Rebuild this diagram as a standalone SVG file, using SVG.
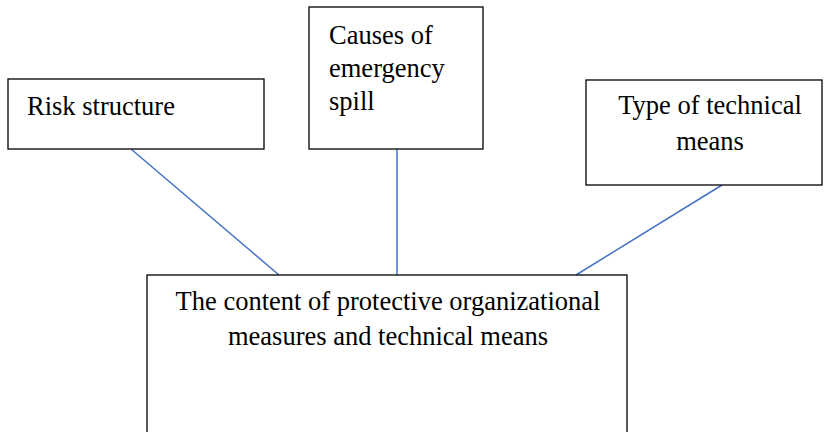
<svg xmlns="http://www.w3.org/2000/svg" width="824" height="432" viewBox="0 0 824 432">
<style>
.box{fill:#fff;stroke:#000;stroke-width:1.3}
.t{font-family:"Liberation Serif","Times New Roman",serif;font-size:26.5px;fill:#000}
.c{text-anchor:middle}
.ln{stroke:#4472C4;stroke-width:1.5;fill:none}
</style>
<rect width="824" height="432" fill="#fff"/>
<g id="connectors">
<line class="ln" x1="131" y1="149" x2="279" y2="275"/>
<line class="ln" x1="397" y1="149" x2="397" y2="275"/>
<line class="ln" x1="722" y1="185" x2="576" y2="275"/>
</g>
<g id="risk">
<rect class="box" x="8" y="79" width="256" height="70"/>
<text class="t" x="27" y="115">Risk structure</text>
</g>
<g id="causes">
<rect class="box" x="309" y="7" width="174" height="142"/>
<text class="t" x="329" y="44">Causes of</text>
<text class="t" x="329" y="77">emergency</text>
<text class="t" x="329" y="110">spill</text>
</g>
<g id="type">
<rect class="box" x="586" y="80" width="236" height="105"/>
<text class="t c" x="710" y="114">Type of technical</text>
<text class="t c" x="710" y="150">means</text>
</g>
<g id="content">
<rect class="box" x="147" y="275" width="480" height="170"/>
<text class="t c" x="388" y="310">The content of protective organizational</text>
<text class="t c" x="388" y="345">measures and technical means</text>
</g>
</svg>
